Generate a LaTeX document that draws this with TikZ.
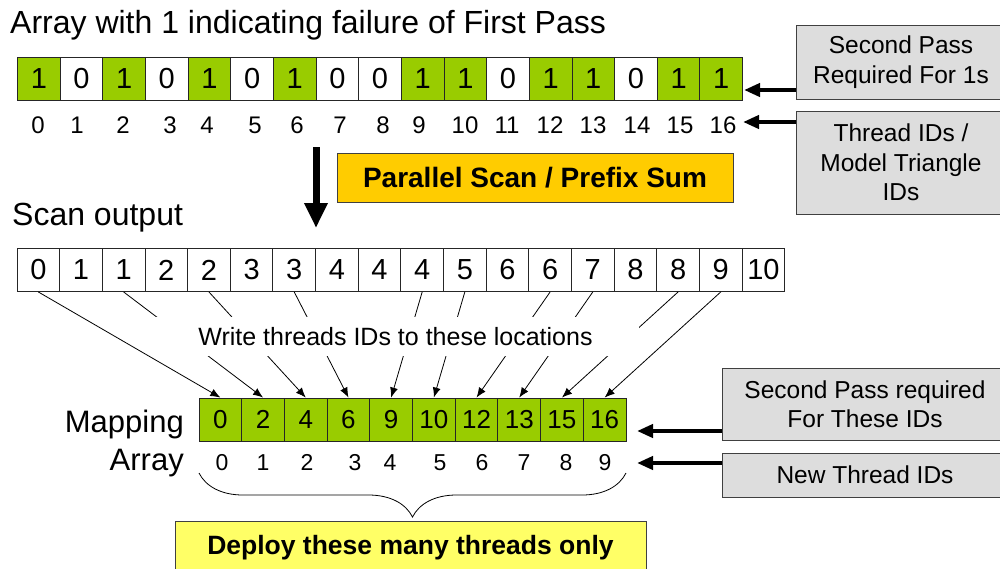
\documentclass[tikz,border=0pt]{standalone}
\usepackage{fontspec}
\setmainfont{Liberation Sans}
\usetikzlibrary{arrows.meta,decorations.pathreplacing}

\definecolor{flaggreen}{HTML}{99CC00}
\definecolor{scangold}{HTML}{FFCC00}
\definecolor{deployyellow}{HTML}{FFFF66}
\definecolor{notegray}{HTML}{DDDDDD}
\definecolor{edgegray}{HTML}{404040}

\newcommand{\pxfont}[2]{\fontsize{#1}{#2}\selectfont}

\tikzset{
  cellbox/.style={draw=black!85, line width=0.9pt, minimum width=42.65pt,
    minimum height=43pt, inner sep=0pt, font=\pxfont{29}{29}},
  cell1/.style={fill=flaggreen},
  cell0/.style={fill=white},
  idx/.style={anchor=base, inner sep=0pt, font=\pxfont{24}{24}},
  notebox/.style={draw=edgegray, line width=0.9pt, fill=notegray, align=center,
    font=\pxfont{24.5}{29.5}, inner sep=0pt},
  banner/.style={draw=edgegray, line width=0.9pt, inner sep=0pt,
    font=\bfseries\pxfont{28}{28}},
  heading/.style={inner sep=0pt, font=\pxfont{32}{32}},
  bigarrow/.style={line width=4pt, -{Triangle[length=16pt,width=13pt]}},
  thinarrow/.style={line width=0.8pt, -{Latex[length=10pt,width=8pt]}},
}

\begin{document}
\begin{tikzpicture}[x=1pt,y=-1pt]
\useasboundingbox (0,0) rectangle (1000,568);
\clip (0,0) rectangle (1000,568);

% ---- flag array ----
\node[heading, anchor=base west] (title) at (10,33)
  {Array with 1 indicating failure of First Pass};
\foreach \v [count=\i from 0] in {1,0,1,0,1,0,1,0,0,1,1,0,1,1,0,1,1}
  \node[cellbox, cell\v] (t\i) at ({17.5+42.65*(\i+0.5)},78.5) {\v};
\foreach \x [count=\i from 0] in {38,77,123,170,207,255,297,340,383,419,465,507,550,593,637,680,723}
  \node[idx] (ti\i) at (\x,133) {\i};

% ---- notes on the right ----
\node[notebox, minimum width=210pt, minimum height=74pt] (req) at (901,62)
  {Second Pass\\Required For 1s};
\node[notebox, minimum width=210pt, minimum height=103pt] (tids) at (901,162.5)
  {Thread IDs /\\Model Triangle\\IDs};
\coordinate (tipA) at (744,90);
\coordinate (tipB) at (743,122);
\draw[bigarrow] (req.west |- tipA) -- (tipA);
\draw[bigarrow] (tids.west |- tipB) -- (tipB);

% ---- scan step ----
\coordinate (scanfrom) at (316,147);
\coordinate (scanto) at (316,228);
\draw[line width=7pt, -{Triangle[length=25pt,width=22pt]}] (scanfrom) -- (scanto);
\node[banner, fill=scangold, minimum width=396pt, minimum height=49pt] (scan)
  at (535,177.5) {Parallel Scan / Prefix Sum};

\node[heading, anchor=base west] (scanlbl) at (12,225) {Scan output};
\foreach \v [count=\i from 0] in {0,1,1,2,2,3,3,4,4,4,5,6,6,7,8,8,9,10}
  \node[cellbox, cell0] (s\i) at ({17+42.65*(\i+0.5)},270) {\v};

% ---- mapping array ----
\node[anchor=base east, inner sep=0pt, font=\pxfont{31}{31}] (maplbl) at (184,432) {Mapping};
\node[anchor=base east, inner sep=0pt, font=\pxfont{31}{31}] (arrlbl) at (184,470) {Array};
\foreach \v [count=\i from 0] in {0,2,4,6,9,10,12,13,15,16}
  \node[cellbox, cell1, font=\pxfont{26}{26}] (m\i) at ({199+42.7*(\i+0.5)},419.5) {\v};
\foreach \x [count=\i from 0] in {222,263,307,355,390,440,482,524,566,605}
  \node[idx, font=\pxfont{23}{23}] (mi\i) at (\x,470) {\i};

% scatter: flagged positions write their IDs to the scanned slots
\foreach \a/\b in {0/0,2/1,4/2,6/3,9/4,10/5,12/6,13/7,15/8,16/9}
  \draw[thinarrow] (s\a.south) -- (m\b.north);
\node[fill=white, minimum width=487pt, minimum height=39pt, inner sep=0pt,
  text height=18pt, text depth=0pt, font=\pxfont{25}{25}] (wlabel) at (395.5,336.5)
  {Write threads IDs to these locations};

\node[notebox, minimum width=286pt, minimum height=72pt] (sp2) at (865,404)
  {Second Pass required\\For These IDs};
\node[notebox, minimum width=286pt, minimum height=44pt] (ntid) at (865,475)
  {New Thread IDs};
\coordinate (tipC) at (637,431);
\coordinate (tipD) at (637,463);
\draw[bigarrow] (sp2.west |- tipC) -- (tipC);
\draw[bigarrow] (ntid.west |- tipD) -- (tipD);

% ---- thread count ----
\coordinate (braceL) at (199,473);
\coordinate (braceR) at (626,473);
\draw[line width=0.8pt, decorate, decoration={brace, mirror, amplitude=44pt}]
  (braceL) -- (braceR);
\node[banner, fill=deployyellow, font=\bfseries\pxfont{26.5}{26.5},
  minimum width=471pt, minimum height=54pt] (deploy) at (410.5,548)
  {Deploy these many threads only};
\end{tikzpicture}
\end{document}
